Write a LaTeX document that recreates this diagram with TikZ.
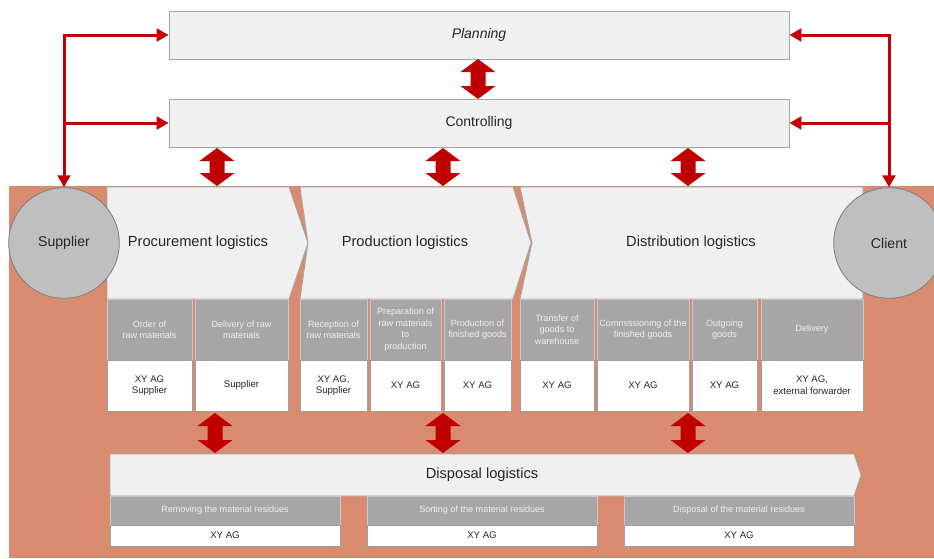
\documentclass[tikz,border=0pt]{standalone}
\usepackage{fontspec}
\setmainfont{Liberation Sans}
\usetikzlibrary{arrows.meta}

\definecolor{bgorange}{RGB}{217,139,112}
\definecolor{arrowred}{RGB}{192,0,0}
\definecolor{stagefill}{RGB}{240,240,240}
\definecolor{stageline}{RGB}{165,165,165}
\definecolor{hdrfill}{RGB}{166,166,166}
\definecolor{hdrtext}{RGB}{238,238,238}
\definecolor{circfill}{RGB}{191,191,191}
\definecolor{circline}{RGB}{125,125,125}
\definecolor{txt}{RGB}{38,38,38}

\tikzset{
  stage/.style={fill=stagefill, draw=stageline, line width=0.6pt},
  title/.style={text=txt, font=\fontsize{11}{13}\selectfont},
  topbox/.style={rectangle, fill=stagefill, draw=stageline, line width=0.6pt,
    minimum width=465pt, minimum height=36pt, text=txt,
    font=\fontsize{10.5}{12}\selectfont},
  party/.style={circle, fill=circfill, draw=circline, line width=0.6pt,
    minimum size=83pt, inner sep=0pt, text=txt, font=\fontsize{10.6}{12}\selectfont},
  hdr/.style={rectangle, fill=hdrfill, draw=white!78!black, line width=0.6pt,
    text=hdrtext, align=center, inner sep=1pt, font=\fontsize{6.8}{8.6}\selectfont},
  who/.style={rectangle, fill=white, draw=white!62!black, line width=0.6pt,
    text=txt, align=center, inner sep=1pt, font=\fontsize{7.2}{8.8}\selectfont},
  fb/.style={draw=arrowred, line width=2.25pt},
  tip/.tip={Triangle[length=9pt, width=9.5pt]}
}

% block arrow pointing both ways: x, top, bottom
\newcommand{\dblarrow}[3]{%
  \fill[arrowred] (#1,#2) -- ++(17.5,13) -- ++(-10,0) -- ({#1+7.5},{#3-13})
    -- ++(10,0) -- (#1,#3) -- ++(-17.5,-13) -- ++(10,0) -- ({#1-7.5},{#2+13})
    -- ++(-10,0) -- cycle;}

\begin{document}
\begin{tikzpicture}[x=0.75pt, y=-0.75pt]
    \useasboundingbox (0,0) rectangle (934,558);

    % Background
    \fill[bgorange] (9,186) rectangle (934,558);

    % Planning and controlling
    \node[topbox] (plan) at (479,35) {\itshape Planning};
    \node[topbox] (ctrl) at (479,123) {Controlling};
    \dblarrow{478}{59}{99}

    % Logistics stages
    \draw[stage] (107,187) -- (289,187) -- (308,243) -- (289,299) -- (107,299) -- cycle;
    \draw[stage] (300,187) -- (513,187) -- (531,243) -- (513,299) -- (300,299) -- (308,243) -- cycle;
    \draw[stage] (520,187) -- (863,187) -- (863,299) -- (520,299) -- (532,243) -- cycle;
    \node[title] (proc) at (198,243) {Procurement logistics};
    \node[title] (prod) at (405,243) {Production logistics};
    \node[title] (dist) at (691,243) {Distribution logistics};

    % Tasks and who does them
    \foreach \xa/\xb/\n/\hd/\ct in {
        107/192/order/{Order of\\raw materials}/{XY AG\\Supplier},
        195/288/deliv/{Delivery of  raw\\materials}/{Supplier},
        300/367/recep/{Reception of\\raw materials}/{XY AG,\\Supplier},
        370/441/prep/{Preparation of\\raw materials\\to\\production}/{XY AG},
        444/511/make/{Production of\\finished goods}/{XY AG},
        520/594/transf/{Transfer of\\goods to\\warehouse}/{XY AG},
        597/689/comm/{Commissioning of the\\finished goods}/{XY AG},
        692/757/outg/{Outgoing\\goods}/{XY AG},
        761/863/ship/{Delivery}/{XY AG,\\external forwarder}}
    {
        \node[hdr, minimum width={(\xb-\xa)*0.75pt}, minimum height=45.75pt]
            (\n-h) at ({(\xa+\xb)/2},329.5) {\hd};
        \node[who, minimum width={(\xb-\xa)*0.75pt}, minimum height=38.25pt]
            (\n-w) at ({(\xa+\xb)/2},385.5) {\ct};
    }

    % Supplier and client
    \node[party] (sup) at (64,243) {Supplier};
    \node[party] (cli) at (889,243) {Client};

    % Feedback to planning and controlling
    \draw[fb, tip-tip] (plan.west) -| (sup.north);
    \draw[fb, -tip] (sup.north |- ctrl.west) -- (ctrl.west);
    \draw[fb, tip-tip] (plan.east) -| (cli.north);
    \draw[fb, -tip] (cli.north |- ctrl.east) -- (ctrl.east);

    % Controlling <-> stages
    \dblarrow{217}{148}{186}
    \dblarrow{443}{148}{186}
    \dblarrow{688}{148}{186}

    % Disposal logistics
    \dblarrow{215}{413}{453}
    \dblarrow{443}{413}{453}
    \dblarrow{688}{413}{453}
    \draw[stage] (110,454) -- (854,454) -- (861,475) -- (854,496) -- (110,496) -- cycle;
    \node[title] (disp) at (482,475) {Disposal logistics};
    \foreach \xa/\xb/\n/\hd in {
        110/340/remove/{Removing the material residues},
        367/597/sort/{Sorting of the material residues},
        624/854/dump/{Disposal of the material residues}}
    {
        \node[hdr, minimum width={(\xb-\xa)*0.75pt}, minimum height=21.75pt]
            (\n-h) at ({(\xa+\xb)/2},510.5) {\hd};
        \node[who, minimum width={(\xb-\xa)*0.75pt}, minimum height=15.75pt]
            (\n-w) at ({(\xa+\xb)/2},535.5) {XY AG};
    }
\end{tikzpicture}
\end{document}
